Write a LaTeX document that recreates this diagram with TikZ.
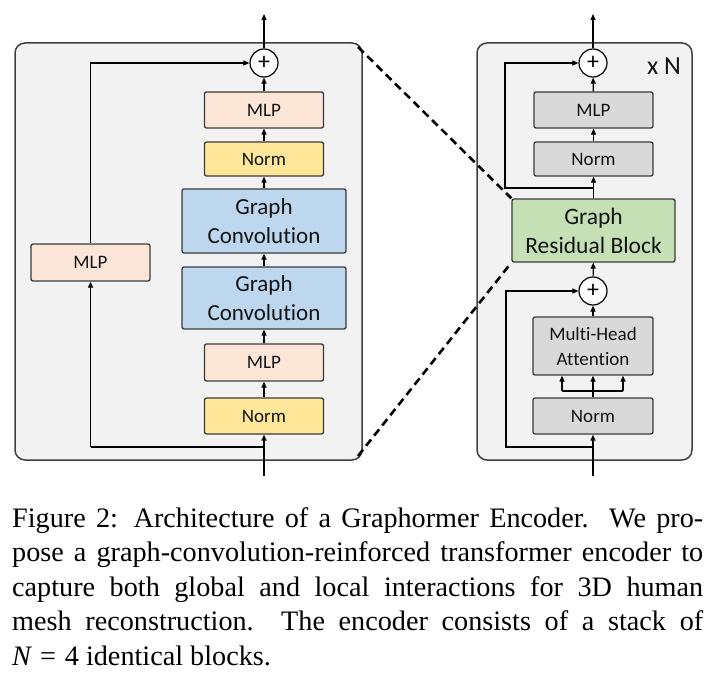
\documentclass[tikz,border=0pt]{standalone}
\usepackage{fontspec}
\setmainfont[Ligatures={NoCommon}]{Carlito}
\newfontfamily\capfont{Liberation Serif}
\usetikzlibrary{arrows.meta}
\definecolor{panelfill}{HTML}{F2F2F2}
\definecolor{panelline}{HTML}{404040}
\definecolor{boxline}{HTML}{3A3A3A}
\definecolor{mlpc}{HTML}{FBE5D6}
\definecolor{normc}{HTML}{FFE699}
\definecolor{gcc}{HTML}{BDD7EE}
\definecolor{grayc}{HTML}{D9D9D9}
\definecolor{greenc}{HTML}{C5E0B4}
\definecolor{txt}{HTML}{141414}
\begin{document}
\begin{tikzpicture}[x=1pt,y=-1pt,
  panel/.style={draw=panelline, fill=panelfill, line width=1.5pt, rounded corners=10pt},
  box/.style={draw=boxline, line width=1.3pt, rounded corners=2pt, inner sep=0pt, align=center, text=txt, font=\fontsize{19}{22}\selectfont},
  smallbox/.style={box, minimum width=119pt},
  bigbox/.style={box, minimum width=164pt, font=\fontsize{23}{29}\selectfont},
  arr/.style={-{Triangle[length=6pt,width=5pt]}, line width=1.2pt},
  ln/.style={line width=1.2pt},
  plus/.style={circle, draw, line width=1.2pt, fill=white, minimum size=28pt, inner sep=0pt, font=\fontsize{24}{24}\selectfont},
  dashline/.style={line width=2.6pt, dash pattern=on 8pt off 5pt},
  capline/.style={anchor=base west, inner sep=0pt, font=\capfont\fontsize{28.2}{34.5}\selectfont}
]
\useasboundingbox (0,0) rectangle (714,679);
% panels
\path[panel] (15,43) rectangle (362,460);
\path[panel] (477,43) rectangle (692,460);
% ---------- left panel ----------
\node[plus] (plusA) at (264,63) {+};
\node[smallbox, fill=mlpc, minimum height=36pt] (mlpA) at (264,110) {MLP};
\node[smallbox, fill=normc, minimum height=34pt] (normA) at (264,159) {Norm};
\node[bigbox, fill=gcc, minimum height=64pt] (gc1) at (264,221) {Graph\\Convolution};
\node[bigbox, fill=gcc, minimum height=62pt] (gc2) at (264,298) {Graph\\Convolution};
\node[smallbox, fill=mlpc, minimum height=37pt] (mlpB) at (264,362.5) {MLP};
\node[smallbox, fill=normc, minimum height=36pt] (normB) at (264,416) {Norm};
\node[smallbox, fill=mlpc, minimum height=37pt] (mlpL) at (90.5,262.5) {MLP};
\coordinate (inA) at (264,476);
\coordinate (outA) at (264,14);
\coordinate (jA) at (264,447);
\coordinate (cA) at (90.5,447);
\draw[arr] (inA) -- (normB);
\draw[arr] (normB) -- (mlpB);
\draw[arr] (mlpB) -- (gc2);
\draw[arr] (gc2) -- (gc1);
\draw[arr] (gc1) -- (normA);
\draw[arr] (normA) -- (mlpA);
\draw[arr] (mlpA) -- (plusA);
\draw[arr] (plusA) -- (outA);
\draw[ln] (jA) -- (cA);
\draw[arr] (cA) -- (mlpL);
\draw[arr] (mlpL.north) |- (plusA.west);
% ---------- right panel ----------
\node[plus] (plusB) at (593,63) {+};
\node[smallbox, fill=grayc, minimum height=36pt] (mlpC) at (593.5,110) {MLP};
\node[smallbox, fill=grayc, minimum height=34pt] (normC) at (593.5,159) {Norm};
\node[box, fill=greenc, minimum width=163pt, minimum height=63pt, font=\fontsize{23.5}{29}\selectfont] (grb) at (593.5,230.5) {Graph\\Residual Block};
\node[plus] (plusC) at (593,291) {+};
\node[box, fill=grayc, minimum width=120pt, minimum height=58pt, font=\fontsize{19}{25}\selectfont] (mha) at (593,346) {Multi-Head\\Attention};
\node[box, fill=grayc, minimum width=120pt, minimum height=36pt] (normD) at (593,416) {Norm};
\node[font=\fontsize{26}{26}\selectfont, text=txt] (xn) at (664,66) {x N};
\coordinate (inB) at (593,476);
\coordinate (outB) at (593,14);
\coordinate (jB) at (593,447);
\coordinate (cB) at (506,447);
\coordinate (jC) at (593,188);
\coordinate (cC) at (505,188);
\coordinate (s1) at (562,391);
\coordinate (s2) at (623,391);
\draw[arr] (inB) -- (normD);
\draw[arr] (normD) -- (mha);
\draw[ln] (s1) -- (s2);
\draw[arr] (s1) -- (s1 |- mha.south);
\draw[arr] (s2) -- (s2 |- mha.south);
\draw[arr] (mha) -- (plusC);
\draw[arr] (plusC) -- (grb);
\draw[arr] (grb) -- (normC);
\draw[arr] (normC) -- (mlpC);
\draw[arr] (mlpC) -- (plusB);
\draw[arr] (plusB) -- (outB);
\draw[arr] (jB) -- (cB) |- (plusC.west);
\draw[arr] (jC) -- (cC) |- (plusB.west);
% ---------- zoom lines ----------
\coordinate (zt) at (358,47);
\coordinate (zb) at (358,456);
\draw[dashline] (zt) -- (grb.north west);
\draw[dashline] (zb) -- (grb.south west);
% ---------- caption ----------
\node[capline] (cap1) at (12,527) {\makebox[691pt][s]{Figure 2: Architecture of a Graphormer Encoder.\ \ We pro-}};
\node[capline] (cap2) at (12,561.5) {\makebox[691pt][s]{pose a graph-convolution-reinforced transformer encoder to}};
\node[capline] (cap3) at (12,596) {\makebox[691pt][s]{capture both global and local interactions for 3D human}};
\node[capline] (cap4) at (12,630.5) {\makebox[691pt][s]{mesh reconstruction.\ \ The encoder consists of a stack of}};
\node[capline] (cap5) at (12,665) {{\itshape N}\hspace{9pt}=\hspace{9pt}4 identical blocks.};
\end{tikzpicture}
\end{document}
